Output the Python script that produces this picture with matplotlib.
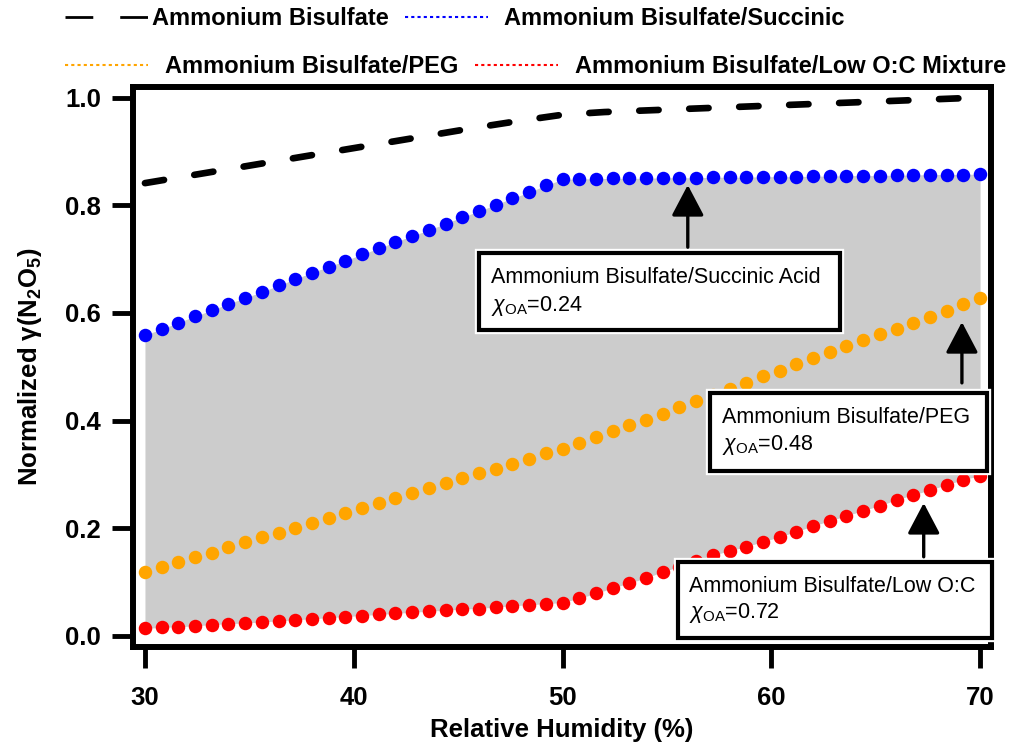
import numpy as np
import matplotlib
matplotlib.use("Agg")
import matplotlib.pyplot as plt
import matplotlib.patheffects as pe
from matplotlib.lines import Line2D
from matplotlib.patches import Rectangle
from matplotlib.ticker import FormatStrFormatter

plt.rcParams["font.family"] = "Liberation Sans"
plt.rcParams["mathtext.fontset"] = "custom"
plt.rcParams["mathtext.rm"] = "Liberation Sans"
plt.rcParams["mathtext.it"] = "Liberation Sans:italic"
plt.rcParams["mathtext.bf"] = "Liberation Sans:bold"

# relative humidity grid of the dotted series (0.8 % steps)
rh = np.linspace(30, 70, 51)

succinic = [0.559, 0.570, 0.582, 0.594, 0.605, 0.617, 0.628, 0.639, 0.651, 0.663,
            0.675, 0.686, 0.697, 0.709, 0.720, 0.732, 0.743, 0.754, 0.766, 0.778,
            0.789, 0.801, 0.813, 0.824, 0.837, 0.848,
            0.849, 0.849, 0.850, 0.850, 0.850, 0.851, 0.851, 0.851, 0.852, 0.852,
            0.852, 0.853, 0.853, 0.853, 0.854, 0.854, 0.855, 0.855, 0.855, 0.856,
            0.856, 0.857, 0.857, 0.857, 0.858]

peg = [0.119, 0.128, 0.137, 0.146, 0.155, 0.165, 0.174, 0.183, 0.192, 0.201,
       0.210, 0.220, 0.228, 0.238, 0.247, 0.256, 0.265, 0.274, 0.284, 0.293,
       0.302, 0.311, 0.320, 0.329, 0.339, 0.348,
       0.358, 0.369, 0.380, 0.391, 0.402, 0.413, 0.425, 0.437, 0.448, 0.459,
       0.470, 0.482, 0.493, 0.505, 0.516, 0.527, 0.538, 0.549, 0.560, 0.571,
       0.582, 0.593, 0.604, 0.616, 0.627]

low_oc = [0.014, 0.016, 0.017, 0.019, 0.021, 0.023, 0.024, 0.026, 0.028, 0.030,
          0.032, 0.034, 0.036, 0.038, 0.040, 0.042, 0.044, 0.046, 0.048, 0.050,
          0.051, 0.054, 0.056, 0.058, 0.060, 0.062,
          0.070, 0.079, 0.089, 0.098, 0.108, 0.119, 0.129, 0.140, 0.150, 0.158,
          0.166, 0.175, 0.184, 0.194, 0.204, 0.214, 0.223, 0.233, 0.242, 0.253,
          0.262, 0.271, 0.281, 0.290, 0.298]

# pure ammonium bisulfate curve
rh_ab = [30, 32, 34, 36, 38, 40, 42, 44, 46, 48, 50, 52, 54, 56, 58, 60, 62, 64, 66, 68, 70]
ab = [0.841, 0.854, 0.867, 0.880, 0.893, 0.906, 0.919, 0.932, 0.945, 0.957, 0.968,
      0.973, 0.976, 0.979, 0.982, 0.985, 0.988, 0.991, 0.994, 0.997, 1.000]

legend_labels = ["Ammonium Bisulfate", "Ammonium Bisulfate/Succinic",
                 "Ammonium Bisulfate/PEG", "Ammonium Bisulfate/Low O:C Mixture"]
box_names = ["Ammonium Bisulfate/Succinic Acid", "Ammonium Bisulfate/PEG",
             "Ammonium Bisulfate/Low O:C"]
chi_oa = ["0.24", "0.48", "0.72"]

fig = plt.figure(figsize=(10.18, 7.44), dpi=100)
ax = fig.add_axes([0.1306, 0.1308, 0.8424, 0.7516])

ax.fill_between(rh, low_oc, succinic, color="#cccccc", lw=0, zorder=1)
ax.plot(rh_ab, ab, color="black", lw=4.8, dashes=(2.9, 4.6),
        dash_capstyle="round", zorder=2)
for vals, c in [(succinic, "#0000ff"), (peg, "#ffa500"), (low_oc, "#ff0000")]:
    ax.plot(rh, vals, ls="none", marker="o", ms=9.7, mec="none", mfc=c,
            zorder=3, clip_on=False)

# annotation boxes: (x0, y0, x1, y1), text anchor, arrow (x, tail, tip)
boxes = [(45.99, 0.568, 63.27, 0.712), (57.08, 0.306, 70.33, 0.451), (55.54, -0.004, 70.57, 0.137)]
text_pos = [(46.56, 0.6555, 0.6035), (57.63, 0.395, 0.3454), (56.07, 0.0823, 0.0328)]
arrows = [(56.0, 0.722, 0.8375), (69.13, 0.470, 0.583), (67.3, 0.147, 0.247)]

for (x0, y0, x1, y1), (tx, ty1, ty2), name, chi in zip(boxes, text_pos, box_names, chi_oa):
    rect = Rectangle((x0, y0), x1 - x0, y1 - y0, fc="white", ec="black", lw=3,
                     zorder=5, clip_on=False,
                     path_effects=[pe.withStroke(linewidth=6, foreground="white")])
    ax.add_patch(rect)
    ax.text(tx, ty1, name, fontsize=15.5, va="baseline", zorder=6)
    ax.text(tx, ty2, r"$\chi_{\mathrm{OA}}$=" + chi, fontsize=15.5, va="baseline", zorder=6)

for x, tail, tip in arrows:
    ax.annotate("", xy=(x, tip), xytext=(x, tail),
                arrowprops=dict(arrowstyle="-|>,head_length=1.9,head_width=1.0",
                                mutation_scale=10, lw=2.4, color="black",
                                shrinkA=0, shrinkB=0), zorder=6)

ax.set_xlim(29.425, 70.5)
ax.set_ylim(-0.0199, 1.0186)
ax.set_xticks([30, 40, 50, 60, 70])
ax.set_yticks([0.0, 0.2, 0.4, 0.6, 0.8, 1.0])
ax.yaxis.set_major_formatter(FormatStrFormatter("%.1f"))
ax.tick_params(direction="out", length=15, width=3.5, labelsize=18.5)
ax.tick_params(axis="x", pad=13)
ax.tick_params(axis="y", pad=8)
for lbl in ax.get_xticklabels() + ax.get_yticklabels():
    lbl.set_fontweight("bold")
for s in ax.spines.values():
    s.set_linewidth(4.3)

ax.set_xlabel("Relative Humidity (%)", fontsize=18.5, fontweight="bold", labelpad=6)
ax.set_ylabel(r"Normalized γ(N$_\mathbf{2}$O$_\mathbf{5}$)", fontsize=18.5,
              fontweight="bold", labelpad=15)

# legend entries placed one by one, as in the original two-row key
h_ab = Line2D([], [], color="black", lw=2, dashes=(10, 9.7))
h_su = Line2D([], [], color="#0000ff", lw=1.5, dashes=(1.5, 1.5))
h_peg = Line2D([], [], color="#ffa500", lw=1.5, dashes=(1.5, 1.5))
h_low = Line2D([], [], color="#ff0000", lw=1.5, dashes=(1.5, 1.5))
entries = [(h_ab, 0.0639, 0.9745, 0.2), (h_su, 0.3978, 0.9745, 0.7),
           (h_peg, 0.0639, 0.9100, 0.75), (h_low, 0.4666, 0.9100, 0.75)]
for (h, ex, ey, tp), lab in zip(entries, legend_labels):
    leg = fig.legend([h], [lab], loc="center left", bbox_to_anchor=(ex, ey),
                     frameon=False, borderpad=0, borderaxespad=0,
                     prop=dict(family="Liberation Sans", weight="bold", size=17),
                     handlelength=3.5, handletextpad=tp)

fig.savefig("out.png", dpi=100)
